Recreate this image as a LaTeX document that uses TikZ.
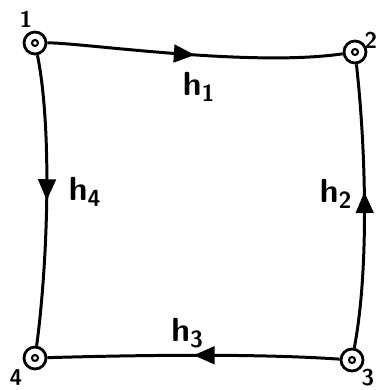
\documentclass[tikz,border=0pt]{standalone}
\usetikzlibrary{arrows.meta,decorations.markings}

\begin{document}
\begin{tikzpicture}[
  vert/.style={circle,draw,line width=1.6pt,minimum size=0.44cm,inner sep=0pt,
    path picture={\draw[line width=1.2pt] (path picture bounding box.center) circle (0.06);}},
  edge/.style={line width=1.7pt},
  midarrow/.style={postaction={decorate},decoration={markings,
    mark=at position #1 with {\arrow{Triangle[width=10pt,length=12pt]}}}},
  num/.style={font=\sffamily\bfseries\fontsize{13}{13}\selectfont},
  hlab/.style={font=\sffamily\bfseries\fontsize{19}{19}\selectfont}
]
\useasboundingbox (0,0) rectangle (7.6,7.8);

\node[vert] (n1) at (0.70,6.94) {};
\node[vert] (n2) at (7.10,6.76) {};
\node[vert] (n3) at (7.04,0.60) {};
\node[vert] (n4) at (0.70,0.64) {};

\node[num] (t1) at (0.52,7.42) {1};
\node[num] (t2) at (7.42,7.00) {2};
\node[num] (t3) at (7.36,0.24) {3};
\node[num] (t4) at (0.32,0.24) {4};

\draw[edge,midarrow=0.5] (n1) .. controls (1.6,6.95) and (5.0,6.45) .. (n2);
\draw[edge,midarrow=0.55] (n3) .. controls (7.4,2.5) and (7.3,5.0) .. (n2);
\draw[edge,midarrow=0.5] (n3) .. controls (5.0,0.74) and (2.5,0.69) .. (n4);
\draw[edge,midarrow=0.5] (n1) .. controls (1.05,5.2) and (0.95,2.5) .. (n4);

\node[hlab] (h1) at (3.98,6.06) {h\textsubscript{1}};
\node[hlab] (h2) at (6.72,3.92) {h\textsubscript{2}};
\node[hlab] (h3) at (3.75,1.14) {h\textsubscript{3}};
\node[hlab] (h4) at (1.70,3.96) {h\textsubscript{4}};
\end{tikzpicture}
\end{document}
